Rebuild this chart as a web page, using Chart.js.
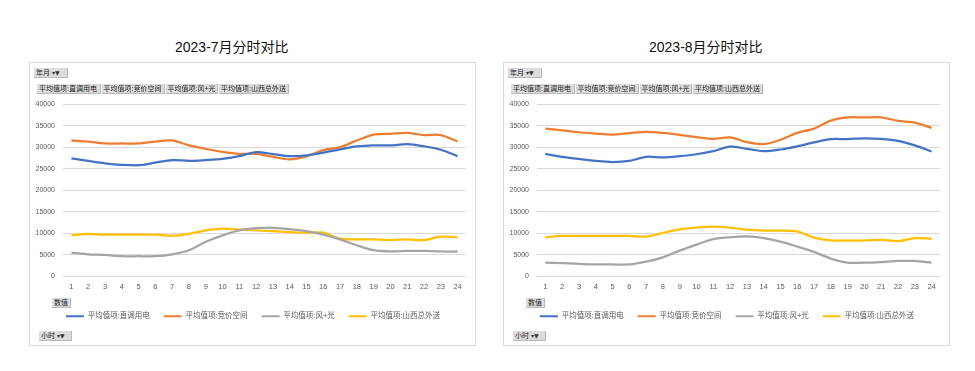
<!DOCTYPE html>
<html>
<head>
<meta charset="utf-8">
<script src="https://cdn.jsdelivr.net/npm/chart.js@4.4.1/dist/chart.umd.min.js"></script>
<style>
  html, body { margin: 0; padding: 0; background: #fff; }
  body { width: 975px; height: 371px; position: relative; overflow: hidden;
         font-family: "Liberation Sans", "Noto Sans CJK SC", sans-serif; }
  .title { position: absolute; font-size: 14px; color: #111; white-space: nowrap; line-height: 14px; }
  .box { position: absolute; box-sizing: border-box; border: 1px solid #d9d9d9; }
  .cv { position: absolute; }
  .btn { position: absolute; box-sizing: border-box; height: 10px; line-height: 10px;
         font-size: 7px; color: #222; background: #dcdcdc; border-right: 1px solid #b8b8b8;
         border-bottom: 1px solid #b8b8b8; white-space: nowrap; padding: 0 1px 0 2px; overflow: hidden; }
  .btn .ic { font-family: "DejaVu Sans"; font-size: 6px; color: #333; }
</style>
</head>
<body>
<script>
// ===== data =====
const hours = ['1','2','3','4','5','6','7','8','9','10','11','12','13','14','15','16','17','18','19','20','21','22','23','24'];
const seriesNames = ['平均值项:直调用电', '平均值项:竞价空间', '平均值项:风+光', '平均值项:山西总外送'];
const chartTitles = ['2023-7月分时对比', '2023-8月分时对比'];
const yTicks = [0, 5000, 10000, 15000, 20000, 25000, 30000, 35000, 40000];

const julZhitiao  = [27400, 26800, 26250, 25900, 25800, 26400, 27000, 26800, 27000, 27300, 27900, 28850, 28400, 27900, 28100, 28700, 29500, 30150, 30400, 30400, 30700, 30200, 29400, 27900];
const julJingjia  = [31550, 31300, 30850, 30850, 30850, 31300, 31550, 30400, 29600, 28900, 28450, 28450, 27750, 27150, 27850, 29300, 30000, 31550, 32900, 33100, 33300, 32800, 32800, 31300];
const julFengguang= [5550, 5150, 5000, 4700, 4700, 4700, 5150, 6100, 8050, 9550, 10700, 11200, 11300, 11000, 10500, 9700, 8600, 7250, 6100, 5800, 5950, 5950, 5800, 5800];
const julWaisong  = [9550, 9900, 9700, 9700, 9700, 9700, 9450, 9900, 10700, 11100, 10850, 10700, 10550, 10300, 10150, 10150, 8800, 8600, 8600, 8450, 8600, 8450, 9250, 9100];

const augZhitiao  = [28450, 27750, 27250, 26800, 26550, 26800, 27750, 27600, 27900, 28350, 29050, 30100, 29600, 29050, 29450, 30200, 31100, 31850, 31850, 32050, 31900, 31450, 30400, 29000];
const augJingjia  = [34300, 33900, 33450, 33150, 32900, 33250, 33550, 33300, 32850, 32300, 31900, 32250, 31150, 30700, 31700, 33300, 34300, 36150, 36900, 36900, 36900, 36100, 35700, 34450];
const augFengguang= [3200, 3100, 2950, 2800, 2800, 2800, 3450, 4450, 6000, 7400, 8650, 9100, 9300, 8900, 8100, 6950, 5700, 4150, 3200, 3200, 3350, 3600, 3600, 3200];
const augWaisong  = [9050, 9400, 9400, 9400, 9400, 9400, 9250, 10100, 10950, 11350, 11550, 11350, 10850, 10650, 10650, 10450, 9000, 8350, 8350, 8350, 8500, 8200, 8900, 8750];

const colors = ['#4472C4', '#ED7D31', '#A5A5A5', '#FFC000'];

// ===== layout =====
function el(cls, html, style) {
  const d = document.createElement('div');
  d.className = cls; d.innerHTML = html; d.setAttribute('style', style);
  document.body.appendChild(d); return d;
}

// nudge the legend a few pixels to the right, as in the reference
const legendShift = {
  id: 'legendShift',
  afterLayout(chart) {
    const lg = chart.legend;
    if (lg) { lg.left += 5; lg.right += 5; }
  }
};

function makeChart(ox, title, titleX, data) {
  el('title', title, `left:${titleX}px;top:40px;`);
  el('box', '', `left:${ox}px;top:62px;width:447px;height:284px;`);
  const cv = document.createElement('canvas');
  cv.className = 'cv';
  cv.width = 445; cv.height = 282;
  cv.style.left = (ox + 1) + 'px'; cv.style.top = '63px';
  cv.style.width = '445px'; cv.style.height = '282px';
  document.body.appendChild(cv);

  const ic = '<span class="ic">&#9662;&#9660;</span>';
  el('btn', '年月 ' + ic, `left:${ox + 5}px;top:68px;width:34px;`);
  const bx = [8, 72.5, 136.5, 190];
  const bw = [63.5, 63, 52.5, 70];
  seriesNames.forEach((n, i) => {
    el('btn', n, `left:${ox + bx[i]}px;top:84px;width:${bw[i]}px;`);
  });
  el('btn', '数值', `left:${ox + 23}px;top:298px;width:19px;`);
  el('btn', '小时 ' + ic, `left:${ox + 10}px;top:331px;width:33px;`);

  new Chart(cv.getContext('2d'), {
    type: 'line',
    data: {
      labels: hours,
      datasets: seriesNames.map((n, i) => ({
        label: n,
        data: data[i],
        borderColor: colors[i],
        backgroundColor: colors[i],
        borderWidth: 2.25,
        pointRadius: 0,
        tension: 0.3,
        fill: false
      }))
    },
    plugins: [legendShift],
    options: {
      responsive: false,
      animation: false,
      layout: { padding: { left: 0, right: 9, top: 41, bottom: 15 } },
      plugins: {
        title: { display: false },
        tooltip: { enabled: false },
        legend: {
          position: 'bottom',
          labels: {
            boxWidth: 18, boxHeight: 2, padding: 14, color: '#595959',
            font: { size: 7.5, family: '"Liberation Sans", "Noto Sans CJK SC", sans-serif' },
            generateLabels(chart) {
              const items = Chart.defaults.plugins.legend.labels.generateLabels(chart);
              items.forEach(it => { it.lineWidth = 0; });
              return items;
            }
          }
        }
      },
      scales: {
        x: {
          offset: true,
          grid: { display: false, drawTicks: false },
          border: { display: false },
          ticks: { color: '#595959', padding: 6, maxRotation: 0, autoSkip: false,
                   font: { size: 7.5, family: '"Liberation Sans", sans-serif' } },
          afterFit(s) { s.height = 22; }
        },
        y: {
          min: 0, max: 40000,
          afterBuildTicks(s) { s.ticks = yTicks.map(v => ({ value: v })); },
          grid: { color: '#d9d9d9', lineWidth: 1, drawTicks: false },
          border: { display: false },
          ticks: { color: '#595959', padding: 8,
                   callback: v => String(v),
                   font: { size: 7, family: '"Liberation Sans", sans-serif' } },
          afterFit(s) { s.width = 33; }
        }
      }
    }
  });
}

makeChart(29, chartTitles[0], 175, [julZhitiao, julJingjia, julFengguang, julWaisong]);
makeChart(503, chartTitles[1], 649, [augZhitiao, augJingjia, augFengguang, augWaisong]);
</script>
</body>
</html>
